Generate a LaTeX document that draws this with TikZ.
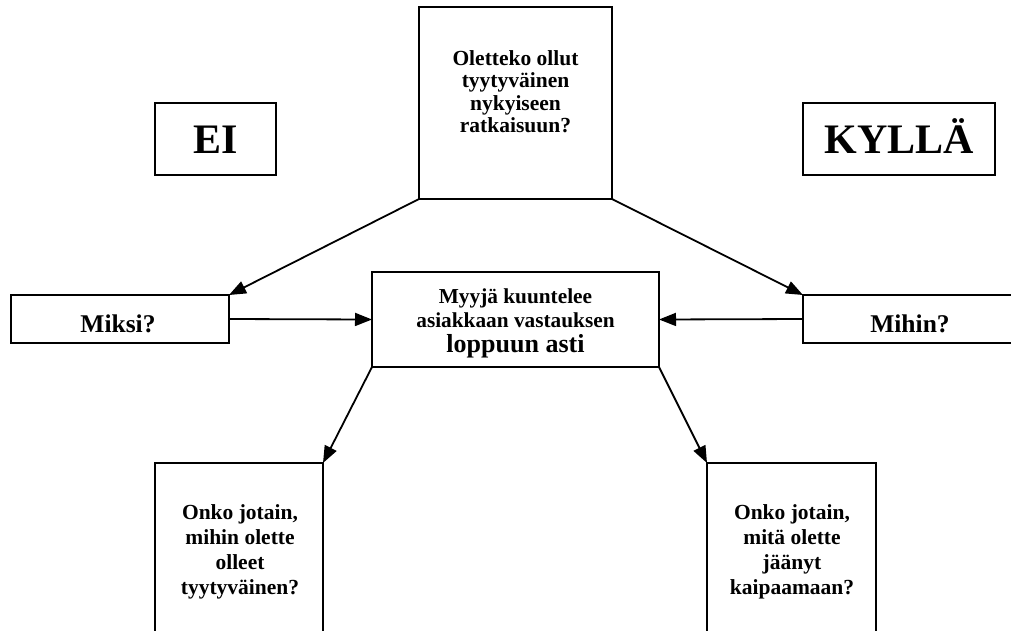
\documentclass[tikz,border=0pt]{standalone}
\usepackage{fontspec}
\setmainfont{Liberation Serif}
\usetikzlibrary{arrows.meta}

\begin{document}
\begin{tikzpicture}[x=1pt,y=-1pt,
  box/.style={draw, line width=2pt, rectangle, inner sep=0pt, outer sep=0pt},
  lbl/.style={inner sep=0pt, anchor=base, align=center,
    font=\bfseries\fontsize{21.5}{22.5}\selectfont},
  big/.style={inner sep=0pt, anchor=base,
    font=\bfseries\fontsize{42}{44}\selectfont},
  mid/.style={inner sep=0pt, anchor=base,
    font=\bfseries\fontsize{25.5}{27}\selectfont},
  conn/.style={line width=1.8pt, -{Triangle[length=17pt,width=13pt]}}
]
\useasboundingbox (0,0) rectangle (1011,630);
\clip (0,0) rectangle (1011,630);

% boxes
\node[box, minimum width=193pt, minimum height=192pt] (top) at (515.5,103) {};
\node[box, minimum width=121pt, minimum height=72pt] (ei) at (215.5,139) {};
\node[box, minimum width=192pt, minimum height=72pt] (kylla) at (899,139) {};
\node[box, minimum width=218pt, minimum height=48pt] (miksi) at (120,319) {};
\node[box, minimum width=214pt, minimum height=48pt] (mihin) at (910,319) {};
\node[box, minimum width=287pt, minimum height=95pt] (center) at (515.5,319.5) {};
\node[box, minimum width=168pt, minimum height=237pt] (bl) at (239,581.5) {};
\node[box, minimum width=169pt, minimum height=237pt] (br) at (791.5,581.5) {};

% texts (multi-line nodes are anchored at the baseline of their last line)
\node[lbl] (ttop) at (515.5,132.5) {Oletteko ollut\\tyytyväinen\\nykyiseen\\ratkaisuun?};
\node[big] (tei) at (215.5,153) {EI};
\node[big] (tkylla) at (899,153) {KYLLÄ};
\node[mid] (tmiksi) at (118,332) {Miksi?};
\node[mid] (tmihin) at (910,332) {Mihin?};
\node[lbl, font=\bfseries\fontsize{21.3}{24}\selectfont] (tcenter) at (515.5,352)
  {Myyjä kuuntelee\\asiakkaan vastauksen\\[1pt]{\fontsize{26}{26}\selectfont loppuun asti}};
\node[lbl, font=\bfseries\fontsize{21.5}{25}\selectfont] (tbl) at (240,594.5)
  {Onko jotain,\\mihin olette\\olleet\\tyytyväinen?};
\node[lbl, font=\bfseries\fontsize{21.5}{25}\selectfont] (tbr) at (792,594.5)
  {Onko jotain,\\mitä olette\\jäänyt\\kaipaamaan?};

% connectors
\draw[conn] (top.south west) -- (miksi.north east);
\draw[conn] (top.south east) -- (mihin.north west);
\draw[conn] (miksi.east) -- (center.west);
\draw[conn] (mihin.west) -- (center.east);
\draw[conn] (center.south west) -- (bl.north east);
\draw[conn] (center.south east) -- (br.north west);
\end{tikzpicture}
\end{document}
